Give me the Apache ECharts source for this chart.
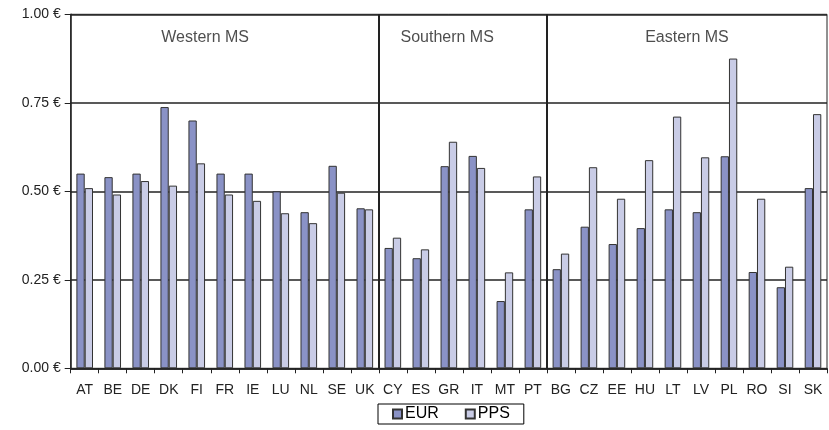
<!DOCTYPE html>
<html>
<head>
<meta charset="utf-8">
<script src="https://cdn.jsdelivr.net/npm/echarts@6/dist/echarts.min.js"></script>
<style>
html,body{margin:0;padding:0;background:#fff;}
#c{width:829px;height:430px;}
</style>
</head>
<body>
<div id="c"></div>
<script>
const categories = ['AT','BE','DE','DK','FI','FR','IE','LU','NL','SE','UK','CY','ES','GR','IT','MT','PT','BG','CZ','EE','HU','LT','LV','PL','RO','SI','SK'];
const eurValues = [0.55,0.54,0.55,0.738,0.70,0.55,0.55,0.50,0.441,0.572,0.452,0.34,0.311,0.571,0.60,0.19,0.449,0.28,0.40,0.351,0.396,0.449,0.441,0.599,0.272,0.229,0.509];
const ppsValues = [0.509,0.491,0.529,0.516,0.579,0.491,0.473,0.438,0.41,0.496,0.449,0.369,0.336,0.64,0.566,0.271,0.542,0.324,0.568,0.479,0.588,0.711,0.596,0.875,0.479,0.287,0.718];
const yTicks = [0, 0.25, 0.5, 0.75, 1.0];
const groupNames = ['Western MS','Southern MS','Eastern MS'];
const groupLabelX = [4.8, 13.44, 22.0];
const groupLabelY = 0.934;
const groupBoundaries = [11, 17];

const chart = echarts.init(document.getElementById('c'), null, {renderer:'canvas'});
const FONT = 'Liberation Sans, Arial, sans-serif';
chart.setOption({
  animation: false,
  backgroundColor: '#fff',
  grid: {left: 70.7, right: 2, top: 14.3, bottom: 61.7, show: true, borderColor: '#222', borderWidth: 1, containLabel: false},
  legend: {
    data: ['EUR','PPS'], left: 378, top: 404, icon: 'rect',
    itemWidth: 9, itemHeight: 9, itemGap: 26,
    padding: [2, 14, 2, 14],
    borderColor: '#000', borderWidth: 1,
    textStyle: {fontFamily: FONT, fontSize: 16, color: '#000', padding: [0,0,0,-2]}
  },
  xAxis: [{
    type: 'category', data: categories, boundaryGap: true,
    axisLine: {show: true, lineStyle: {color: '#222', width: 1.5}},
    axisTick: {show: true, length: 5, lineStyle: {color: '#222'}},
    axisLabel: {fontFamily: FONT, fontSize: 14, color: '#222', margin: 15, interval: 0},
    splitLine: {show: false}
  }, {
    type: 'value', min: 0, max: categories.length, show: false
  }],
  yAxis: {
    type: 'value', min: yTicks[0], max: yTicks[yTicks.length-1], interval: 0.25,
    axisLine: {show: true, lineStyle: {color: '#222', width: 1.5}},
    axisTick: {show: true, length: 6, lineStyle: {color: '#222'}},
    axisLabel: {fontFamily: FONT, fontSize: 14, color: '#222', margin: 10,
      formatter: v => v.toFixed(2) + ' €'},
    splitLine: {show: true, lineStyle: {color: '#222', width: 1.5}}
  },
  series: [{
    name: 'EUR', type: 'bar', data: eurValues, barWidth: 8.3, barGap: '0%',
    itemStyle: {color: '#8a92c6', borderColor: '#333', borderWidth: 1}
  }, {
    name: 'PPS', type: 'bar', data: ppsValues, barWidth: 8.3, barGap: '0%',
    itemStyle: {color: '#c9cce6', borderColor: '#333', borderWidth: 1}
  }, {
    name: 'groups', type: 'scatter', xAxisIndex: 1, symbolSize: 1,
    itemStyle: {color: 'rgba(0,0,0,0)'},
    data: groupNames.map((n, i) => ({name: n, value: [groupLabelX[i], groupLabelY]})),
    label: {show: true, position: 'inside', formatter: p => p.name,
      fontFamily: FONT, fontSize: 16, color: '#222'},
    markLine: {
      silent: true, symbol: ['none','none'], label: {show: false},
      lineStyle: {color: '#222', width: 2, type: 'solid'},
      data: groupBoundaries.map(b => ({xAxis: b}))
    },
    tooltip: {show: false}
  }]
});
</script>
</body>
</html>
